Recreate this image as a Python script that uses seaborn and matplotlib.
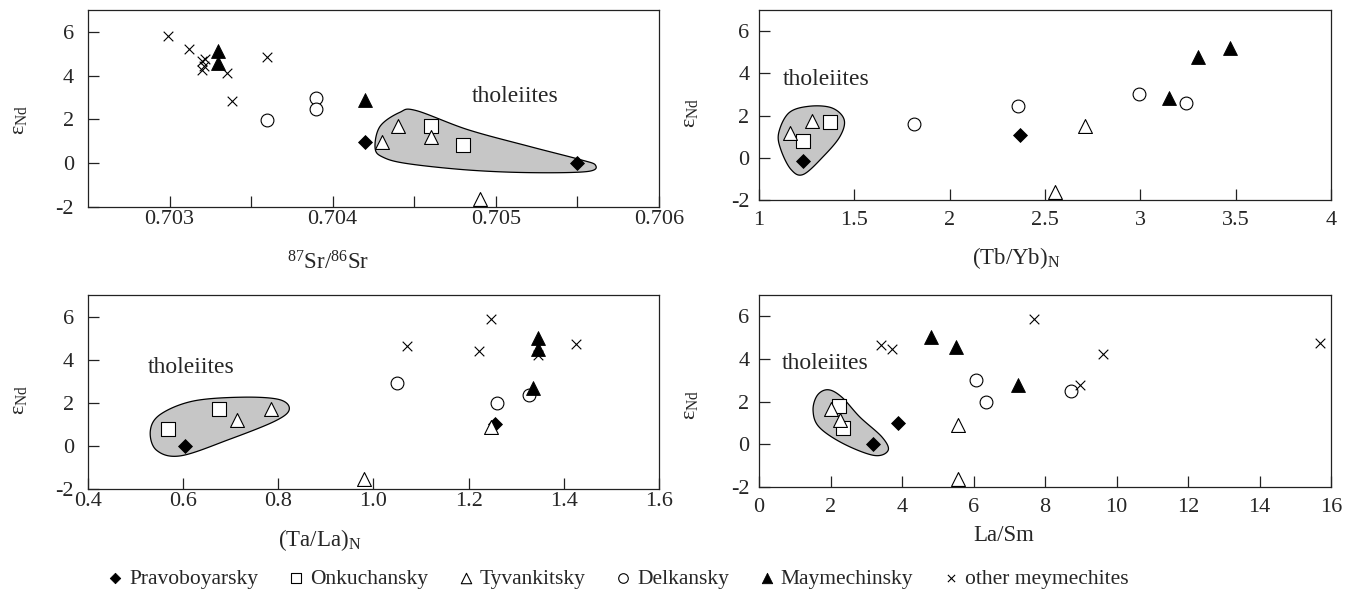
import seaborn as sns
import matplotlib.pyplot as plt
import matplotlib.ticker as mticker
import pandas as pd
import numpy as np

# -------------------------
# Data
# -------------------------

groups = ["Pravoboyarsky", "Onkuchansky", "Tyvankitsky", "Delkansky",
          "Maymechinsky", "other meymechites"]

# panel a: 87Sr/86Sr vs eNd
prav_sr = [0.7042, 0.7055]
prav_sr_e = [0.99, 0.0]
onk_sr = [0.7046, 0.7048]
onk_sr_e = [1.68, 0.84]
tyv_sr = [0.7043, 0.7044, 0.7046, 0.7049]
tyv_sr_e = [0.99, 1.68, 1.19, -1.65]
del_sr = [0.7036, 0.7039, 0.7039]
del_sr_e = [1.98, 2.98, 2.49]
may_sr = [0.7033, 0.7033, 0.7042]
may_sr_e = [5.11, 4.58, 2.87]
oth_sr = [0.70299, 0.70312, 0.70320, 0.70322, 0.70320, 0.70321, 0.70335, 0.70338, 0.70360]
oth_sr_e = [5.83, 5.24, 4.66, 4.77, 4.28, 4.45, 4.10, 2.83, 4.84]

# panel b: (Tb/Yb)N vs eNd
prav_tb = [1.23, 2.37]
prav_tb_e = [-0.16, 1.07]
onk_tb = [1.23, 1.37]
onk_tb_e = [0.79, 1.69]
tyv_tb = [1.16, 1.28, 2.71, 2.55]
tyv_tb_e = [1.18, 1.73, 1.50, -1.62]
del_tb = [1.81, 2.36, 2.99, 3.24]
del_tb_e = [1.60, 2.44, 3.02, 2.60]
may_tb = [3.15, 3.30, 3.47]
may_tb_e = [2.83, 4.77, 5.20]
oth_tb = []
oth_tb_e = []

# panel c: (Ta/La)N vs eNd
prav_ta = [0.604, 1.256]
prav_ta_e = [0.0, 1.0]
onk_ta = [0.569, 0.675]
onk_ta_e = [0.80, 1.69]
tyv_ta = [0.713, 0.785, 0.980, 1.247]
tyv_ta_e = [1.18, 1.72, -1.54, 0.89]
del_ta = [1.049, 1.260, 1.326]
del_ta_e = [2.92, 2.00, 2.38]
may_ta = [1.335, 1.346, 1.346]
may_ta_e = [2.69, 5.00, 4.50]
oth_ta = [1.247, 1.071, 1.221, 1.346, 1.425]
oth_ta_e = [5.89, 4.62, 4.42, 4.23, 4.74]

# panel d: La/Sm vs eNd
prav_la = [3.88, 3.18]
prav_la_e = [1.02, 0.0]
onk_la = [2.23, 2.34]
onk_la_e = [1.78, 0.78]
tyv_la = [2.00, 2.25, 5.57, 5.57]
tyv_la_e = [1.67, 1.13, 0.92, -1.61]
del_la = [6.06, 6.34, 8.73]
del_la_e = [3.00, 1.98, 2.50]
may_la = [4.81, 5.51, 7.23]
may_la_e = [5.03, 4.56, 2.77]
oth_la = [3.42, 3.73, 7.70, 9.61, 8.99, 15.69]
oth_la_e = [4.67, 4.45, 5.86, 4.25, 2.80, 4.77]

# tholeiite field outlines (control points, data units)
thol_sr_x = [0.70426, 0.70429, 0.70441, 0.70451, 0.70483, 0.70521, 0.70551,
             0.70561, 0.70556, 0.70521, 0.70483, 0.70446, 0.70431]
thol_sr_y = [0.69, 1.68, 2.32, 2.41, 1.53, 0.76, 0.18, -0.08, -0.38, -0.43,
             -0.31, -0.02, 0.27]
thol_tb_x = [1.103, 1.157, 1.264, 1.382, 1.446, 1.425, 1.339, 1.232, 1.167, 1.114]
thol_tb_y = [1.18, 2.13, 2.44, 2.36, 1.81, 1.02, 0.08, -0.79, -0.55, 0.39]
thol_ta_x = [0.531, 0.552, 0.621, 0.724, 0.802, 0.823, 0.793, 0.698, 0.595, 0.544]
thol_ta_y = [0.69, 1.46, 2.08, 2.26, 2.15, 1.69, 1.15, 0.31, -0.46, -0.20]
thol_la_x = [1.51, 1.63, 1.93, 2.31, 2.82, 3.44, 3.61, 3.22, 2.36, 1.68]
thol_la_y = [1.59, 2.30, 2.56, 2.22, 1.28, 0.34, -0.28, -0.52, 0.03, 0.81]

# "tholeiites" label anchors
thol_label = {"sr": (0.70512, 3.05), "tb": (1.35, 3.70),
              "ta": (0.617, 3.65), "la": (1.85, 3.81)}


def panel_frame(xs, es):
    rows = []
    for g, xv, ev in zip(groups, xs, es):
        for a, b in zip(xv, ev):
            rows.append({"group": g, "x": a, "eNd": b})
    return pd.DataFrame(rows)


df_sr = panel_frame([prav_sr, onk_sr, tyv_sr, del_sr, may_sr, oth_sr],
                    [prav_sr_e, onk_sr_e, tyv_sr_e, del_sr_e, may_sr_e, oth_sr_e])
df_tb = panel_frame([prav_tb, onk_tb, tyv_tb, del_tb, may_tb, oth_tb],
                    [prav_tb_e, onk_tb_e, tyv_tb_e, del_tb_e, may_tb_e, oth_tb_e])
df_ta = panel_frame([prav_ta, onk_ta, tyv_ta, del_ta, may_ta, oth_ta],
                    [prav_ta_e, onk_ta_e, tyv_ta_e, del_ta_e, may_ta_e, oth_ta_e])
df_la = panel_frame([prav_la, onk_la, tyv_la, del_la, may_la, oth_la],
                    [prav_la_e, onk_la_e, tyv_la_e, del_la_e, may_la_e, oth_la_e])

# -------------------------
# Styling
# -------------------------

sns.set_style("white")
plt.rcParams["font.family"] = ["Liberation Serif", "DejaVu Serif"]
plt.rcParams["mathtext.fontset"] = "custom"
plt.rcParams["mathtext.rm"] = "Liberation Serif"
plt.rcParams["mathtext.it"] = "Liberation Serif:italic"
plt.rcParams["axes.unicode_minus"] = False

marker_style = {
    "Pravoboyarsky": dict(marker="D", s=50, color="black", edgecolor="black", linewidth=0.6),
    "Onkuchansky": dict(marker="s", s=90, color="white", edgecolor="black", linewidth=0.8),
    "Tyvankitsky": dict(marker="^", s=100, color="white", edgecolor="black", linewidth=0.8),
    "Delkansky": dict(marker="o", s=85, color="white", edgecolor="black", linewidth=0.8),
    "Maymechinsky": dict(marker="^", s=100, color="black", edgecolor="black", linewidth=0.6),
    "other meymechites": dict(marker="x", s=48, color="black", linewidth=0.8),
}


def smooth_closed(xs, ys, n=30):
    p = np.column_stack([xs, ys])
    m = len(p)
    t = np.linspace(0, 1, n, endpoint=False)[:, None]
    segs = []
    for i in range(m):
        p0, p1, p2, p3 = p[i - 1], p[i], p[(i + 1) % m], p[(i + 2) % m]
        segs.append(0.5 * (2 * p1 + (-p0 + p2) * t
                           + (2 * p0 - 5 * p1 + 4 * p2 - p3) * t ** 2
                           + (-p0 + 3 * p1 - 3 * p2 + p3) * t ** 3))
    return np.vstack(segs)


def draw_panel(ax, df, field_x, field_y, label_xy):
    pts = smooth_closed(field_x, field_y)
    ax.fill(pts[:, 0], pts[:, 1], facecolor="#c6c6c6", edgecolor="black",
            linewidth=0.9, zorder=1)
    ax.text(label_xy[0], label_xy[1], "tholeiites", fontsize=17,
            ha="center", va="center")
    for g in groups:
        sub = df[df["group"] == g]
        if sub.empty:
            continue
        sns.scatterplot(data=sub, x="x", y="eNd", ax=ax, label=g,
                        legend=False, zorder=3, **marker_style[g])
    ax.set_ylim(-2, 7)
    ax.set_yticks([-2, 0, 2, 4, 6])
    for sp in ax.spines.values():
        sp.set_linewidth(0.9)
        sp.set_color("#222222")


fig = plt.figure(figsize=(13.64, 6), dpi=100)
ax1 = fig.add_axes([0.0645, 0.655, 0.4186, 0.3283])
ax2 = fig.add_axes([0.5565, 0.6667, 0.4194, 0.3167])
ax3 = fig.add_axes([0.0645, 0.185, 0.4186, 0.3233])
ax4 = fig.add_axes([0.5565, 0.1883, 0.4194, 0.32])

draw_panel(ax1, df_sr, thol_sr_x, thol_sr_y, thol_label["sr"])
draw_panel(ax2, df_tb, thol_tb_x, thol_tb_y, thol_label["tb"])
draw_panel(ax3, df_ta, thol_ta_x, thol_ta_y, thol_label["ta"])
draw_panel(ax4, df_la, thol_la_x, thol_la_y, thol_label["la"])

# axis ranges and ticks
ax1.set_xlim(0.7025, 0.706)
ax1.set_xticks([0.703, 0.704, 0.705, 0.706])
ax1.set_xticks([0.7035, 0.7045, 0.7055], minor=True)
ax1.xaxis.set_major_formatter(mticker.FormatStrFormatter("%.3f"))

ax2.set_xlim(1, 4)
ax2.set_xticks([1, 1.5, 2, 2.5, 3, 3.5, 4])
ax2.xaxis.set_major_formatter(mticker.FuncFormatter(lambda v, p: f"{v:g}"))

ax3.set_xlim(0.4, 1.6)
ax3.set_xticks([0.4, 0.6, 0.8, 1.0, 1.2, 1.4, 1.6])
ax3.xaxis.set_major_formatter(mticker.FormatStrFormatter("%.1f"))

ax4.set_xlim(0, 16)
ax4.set_xticks(list(range(0, 17, 2)))

for ax, right in [(ax1, False), (ax2, True), (ax3, False), (ax4, True)]:
    ax.tick_params(axis="both", which="both", direction="in", length=8,
                   width=0.9, labelsize=16, color="#222222",
                   bottom=True, left=True, top=False, right=False)
    ax.tick_params(axis="x", which="both", pad=8 if right else 2)
    ax.tick_params(axis="y", pad=7 if right else 10)

# axis labels
ylab = r"$\mathrm{ε_{Nd}}$"
for ax, yy in [(ax1, 0.44), (ax2, 0.46), (ax3, 0.46), (ax4, 0.43)]:
    ax.set_ylabel(ylab, fontsize=16)
    ax.yaxis.label.set_va("center")
    ax.yaxis.set_label_coords(-0.12, yy)

xlabels = [
    (ax1, r"$\mathrm{^{87}Sr/^{86}Sr}$", 0.42, -0.285),
    (ax2, r"$\mathrm{(Tb/Yb)_N}$", 0.449, -0.305),
    (ax3, r"$\mathrm{(Ta/La)_N}$", 0.406, -0.265),
    (ax4, "La/Sm", 0.427, -0.255),
]
for ax, txt, xx, yy in xlabels:
    ax.set_xlabel(txt, fontsize=16.5)
    ax.xaxis.label.set_va("center")
    ax.xaxis.set_label_coords(xx, yy)

# shared legend along the bottom
handles, labels = ax1.get_legend_handles_labels()
fig.legend(handles, labels, loc="center", bbox_to_anchor=(0.452, 0.035),
           ncol=6, frameon=False, fontsize=15.5, handletextpad=0.15,
           columnspacing=1.25, handlelength=1.0, markerscale=0.75)

fig.savefig("out.png", dpi=100)
plt.close(fig)
